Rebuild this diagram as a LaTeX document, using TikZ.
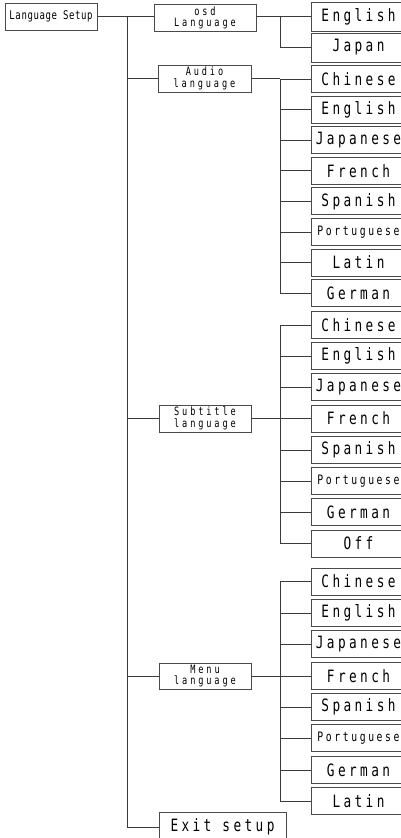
\documentclass[tikz,border=0pt]{standalone}
\usepackage{fontspec}
\newfontfamily\monof[FakeStretch=0.75,LetterSpace=20]{DejaVu Sans Mono}
\newfontfamily\midf[FakeStretch=0.75,LetterSpace=25]{DejaVu Sans Mono}
\newfontfamily\rootf[FakeStretch=0.75,LetterSpace=5]{DejaVu Sans Mono}
\definecolor{ln}{HTML}{3A3A3A}
\definecolor{bx}{HTML}{4A4A4A}
\tikzset{
  box/.style={draw=bx, line width=0.9pt, inner sep=0pt, anchor=center, text=black},
  itembox/.style={box, minimum width=95pt, minimum height=27pt, font=\monof\fontsize{17}{17}\selectfont},
  smallitem/.style={itembox, font=\monof\fontsize{13}{13}\selectfont},
  midbox/.style={box, minimum width=92pt, minimum height=27pt, align=center, font=\midf\fontsize{11.5}{11.5}\selectfont},
  wire/.style={draw=ln, line width=0.9pt},
}
\begin{document}
\begin{tikzpicture}[x=1pt,y=-1pt]
\useasboundingbox (0,0) rectangle (401,838);
\clip (0,0) rectangle (401,838);
% root and second level
\node[box, minimum width=92pt, minimum height=27pt, font=\rootf\fontsize{12}{12}\selectfont] (root) at (51,16.5) {Language Setup};
\node[midbox, minimum width=102pt] (osd) at (205,18) {osd\\Language};
\node[midbox, minimum width=93pt] (audio) at (204.5,78.5) {Audio\\language};
\node[midbox] (sub) at (205,418.5) {Subtitle\\language};
\node[midbox, minimum height=26pt] (menu) at (205,676) {Menu\\language};
\node[box, minimum width=127pt, minimum height=30pt, font=\monof\fontsize{17}{17}\selectfont] (exit) at (222.5,827) {Exit setup};
\coordinate (t0) at (127,16.5);
\coordinate (sv) at (280,0);
% osd items
\node[itembox, minimum height=29pt] (o1) at (358.5,16.5) {English};
\node[itembox, minimum height=29pt] (o2) at (358.5,47.5) {Japan};
% audio items
\node[itembox] (a1) at (358.5,79) {Chinese};
\node[itembox] (a2) at (358.5,109.6) {English};
\node[itembox] (a3) at (358.5,140.2) {Japanese};
\node[itembox] (a4) at (358.5,170.8) {French};
\node[itembox] (a5) at (358.5,201.4) {Spanish};
\node[smallitem] (a6) at (358.5,232) {Portuguese};
\node[itembox] (a7) at (358.5,262.6) {Latin};
\node[itembox] (a8) at (358.5,293.2) {German};
% subtitle items
\node[itembox] (s1) at (358.5,325) {Chinese};
\node[itembox] (s2) at (358.5,356) {English};
\node[itembox] (s3) at (358.5,387) {Japanese};
\node[itembox] (s4) at (358.5,418.5) {French};
\node[itembox] (s5) at (358.5,450) {Spanish};
\node[smallitem] (s6) at (358.5,481) {Portuguese};
\node[itembox] (s7) at (358.5,512) {German};
\node[itembox] (s8) at (358.5,543.5) {Off};
% menu items
\node[itembox] (m1) at (358.5,581.5) {Chinese};
\node[itembox] (m2) at (358.5,613) {English};
\node[itembox] (m3) at (358.5,644) {Japanese};
\node[itembox] (m4) at (358.5,676) {French};
\node[itembox] (m5) at (358.5,707) {Spanish};
\node[smallitem] (m6) at (358.5,738) {Portuguese};
\node[itembox] (m7) at (358.5,770) {German};
\node[itembox] (m8) at (358.5,801) {Latin};
% trunk
\draw[wire] (root.east) -- (osd.west |- root.east);
\draw[wire] (t0) -- (exit.west -| t0) -- (exit.west);
\foreach \n in {audio,sub,menu} \draw[wire] (\n.west -| t0) -- (\n.west);
% osd branch
\draw[wire] (osd.east |- o1.west) -- (o1.west);
\draw[wire] (o1.west -| sv) -- (o2.west -| sv) -- (o2.west);
% audio, subtitle, menu branches
\draw[wire] (audio.east) -- (audio.east -| sv);
\draw[wire] (sub.east) -- (sub.east -| sv);
\draw[wire] (menu.east) -- (menu.east -| sv);
\foreach \g in {a,s,m}{
  \draw[wire] (\g1.west -| sv) -- (\g8.west -| sv);
  \foreach \i in {1,...,8} \draw[wire] (\g\i.west -| sv) -- (\g\i.west);
}
\end{tikzpicture}
\end{document}
